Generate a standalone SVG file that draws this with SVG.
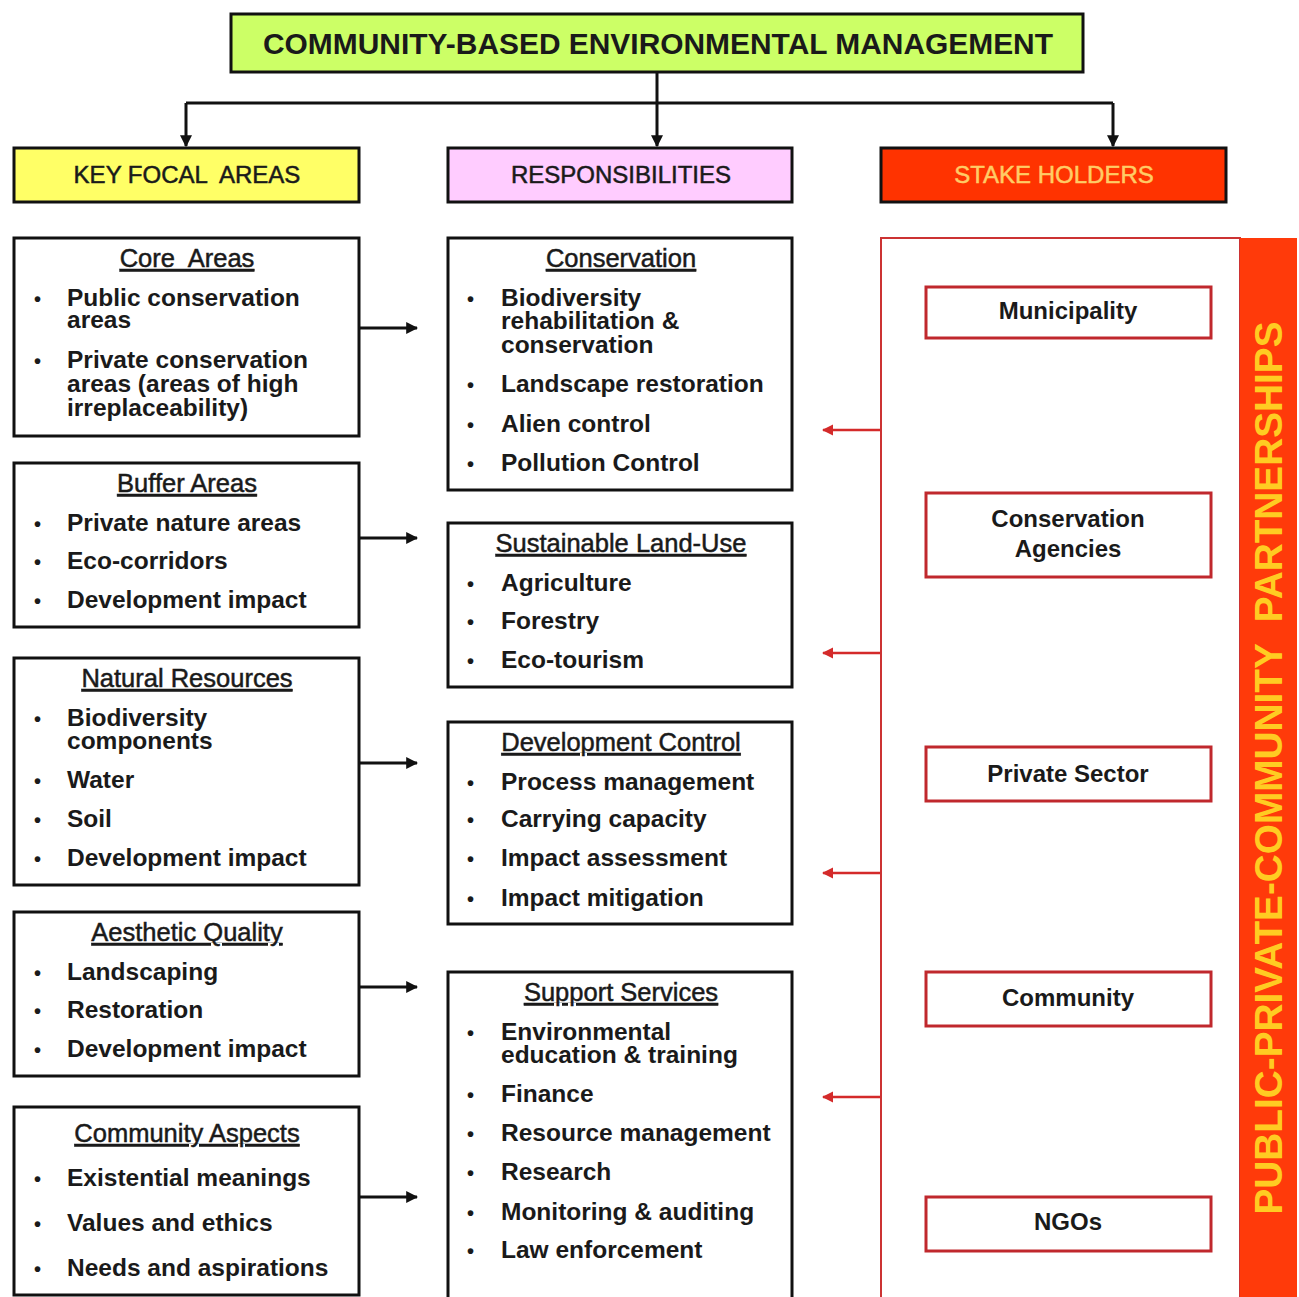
<svg xmlns="http://www.w3.org/2000/svg" width="1299" height="1297" viewBox="0 0 1299 1297">
<style>
text{font-family:"Liberation Sans",Arial,sans-serif;fill:#1a1a1a}
.box{fill:#fff;stroke:#111;stroke-width:3}
.hd{font-size:25.5px;text-anchor:middle;text-decoration:underline;stroke:#1a1a1a;stroke-width:0.5}
.b{font-size:24.5px;font-weight:bold}
.bl{font-size:20px;font-weight:bold}
.sh{fill:#fff;stroke:#c0282d;stroke-width:3}
.sht{font-size:24px;font-weight:bold;text-anchor:middle}
.hdr{stroke:#111;stroke-width:3}
.cap{font-size:24px;text-anchor:middle;stroke:#1a1a1a;stroke-width:0.5}
.con{stroke:#111;stroke-width:3;fill:none}
.red{stroke:#d42a2a;stroke-width:2.5;fill:none}
</style>
<defs>
<marker id="ah" viewBox="0 0 10 10" refX="9" refY="5" markerWidth="4" markerHeight="4" orient="auto" markerUnits="strokeWidth"><path d="M0,0L10,5L0,10z" fill="#111"/></marker>
<marker id="ahr" viewBox="0 0 10 10" refX="9" refY="5" markerWidth="4.5" markerHeight="4.5" orient="auto" markerUnits="strokeWidth"><path d="M0,0L10,5L0,10z" fill="#d42a2a"/></marker>
</defs>
<rect width="1299" height="1297" fill="#fff"/>

<g id="title">
<rect x="231" y="14" width="852" height="58" fill="#ccff66" class="hdr"/>
<text x="658" y="54" style="font-size:29px;font-weight:bold;text-anchor:middle" textLength="790" lengthAdjust="spacingAndGlyphs">COMMUNITY-BASED ENVIRONMENTAL MANAGEMENT</text>
</g>

<g id="hdr-key">
<rect x="14" y="148" width="345" height="54" fill="#ffff66" class="hdr"/>
<text x="187" y="183" class="cap" xml:space="preserve">KEY FOCAL  AREAS</text>
</g>
<g id="hdr-resp">
<rect x="448" y="148" width="344" height="54" fill="#ffccff" class="hdr"/>
<text x="621" y="183" class="cap">RESPONSIBILITIES</text>
</g>
<g id="hdr-stake">
<rect x="881" y="148" width="345" height="54" fill="#ff3300" class="hdr"/>
<text x="1054" y="183" class="cap" style="fill:#ffcc66;stroke:#ffcc66">STAKE HOLDERS</text>
</g>

<g id="connectors">
<path class="con" d="M657,72V103"/>
<path class="con" d="M186,103H1113"/>
<path class="con" d="M186,103V146" marker-end="url(#ah)"/>
<path class="con" d="M657,103V146" marker-end="url(#ah)"/>
<path class="con" d="M1113,103V146" marker-end="url(#ah)"/>
<path class="con" d="M359,328H417" marker-end="url(#ah)"/>
<path class="con" d="M359,538H417" marker-end="url(#ah)"/>
<path class="con" d="M359,763H417" marker-end="url(#ah)"/>
<path class="con" d="M359,987H417" marker-end="url(#ah)"/>
<path class="con" d="M359,1197H417" marker-end="url(#ah)"/>
<path class="red" d="M881,430H823" marker-end="url(#ahr)"/>
<path class="red" d="M881,653H823" marker-end="url(#ahr)"/>
<path class="red" d="M881,873H823" marker-end="url(#ahr)"/>
<path class="red" d="M881,1097H823" marker-end="url(#ahr)"/>
</g>

<g id="core-areas">
<rect x="14" y="238" width="345" height="198" class="box"/>
<text x="187" y="267" class="hd" xml:space="preserve">Core  Areas</text>
<text x="34" y="306" class="bl">•</text>
<text class="b"><tspan x="67" y="306">Public conservation</tspan><tspan x="67" y="328">areas</tspan></text>
<text x="34" y="368" class="bl">•</text>
<text class="b"><tspan x="67" y="368">Private conservation</tspan><tspan x="67" y="392">areas (areas of high</tspan><tspan x="67" y="416">irreplaceability)</tspan></text>
</g>

<g id="buffer-areas">
<rect x="14" y="463" width="345" height="164" class="box"/>
<text x="187" y="492" class="hd">Buffer Areas</text>
<text x="34" y="531" class="bl">•</text>
<text x="67" y="531" class="b">Private nature areas</text>
<text x="34" y="569" class="bl">•</text>
<text x="67" y="569" class="b">Eco-corridors</text>
<text x="34" y="608" class="bl">•</text>
<text x="67" y="608" class="b">Development impact</text>
</g>

<g id="natural-resources">
<rect x="14" y="658" width="345" height="227" class="box"/>
<text x="187" y="687" class="hd">Natural Resources</text>
<text x="34" y="726" class="bl">•</text>
<text class="b"><tspan x="67" y="726">Biodiversity</tspan><tspan x="67" y="749">components</tspan></text>
<text x="34" y="788" class="bl">•</text>
<text x="67" y="788" class="b">Water</text>
<text x="34" y="827" class="bl">•</text>
<text x="67" y="827" class="b">Soil</text>
<text x="34" y="866" class="bl">•</text>
<text x="67" y="866" class="b">Development impact</text>
</g>

<g id="aesthetic-quality">
<rect x="14" y="912" width="345" height="164" class="box"/>
<text x="187" y="941" class="hd">Aesthetic Quality</text>
<text x="34" y="980" class="bl">•</text>
<text x="67" y="980" class="b">Landscaping</text>
<text x="34" y="1018" class="bl">•</text>
<text x="67" y="1018" class="b">Restoration</text>
<text x="34" y="1057" class="bl">•</text>
<text x="67" y="1057" class="b">Development impact</text>
</g>

<g id="community-aspects">
<rect x="14" y="1107" width="345" height="188" class="box"/>
<text x="187" y="1142" class="hd">Community Aspects</text>
<text x="34" y="1186" class="bl">•</text>
<text x="67" y="1186" class="b">Existential meanings</text>
<text x="34" y="1231" class="bl">•</text>
<text x="67" y="1231" class="b">Values and ethics</text>
<text x="34" y="1276" class="bl">•</text>
<text x="67" y="1276" class="b">Needs and aspirations</text>
</g>

<g id="conservation">
<rect x="448" y="238" width="344" height="252" class="box"/>
<text x="621" y="267" class="hd">Conservation</text>
<text x="467" y="306" class="bl">•</text>
<text class="b"><tspan x="501" y="306">Biodiversity</tspan><tspan x="501" y="329">rehabilitation &amp;</tspan><tspan x="501" y="353">conservation</tspan></text>
<text x="467" y="392" class="bl">•</text>
<text x="501" y="392" class="b">Landscape restoration</text>
<text x="467" y="432" class="bl">•</text>
<text x="501" y="432" class="b">Alien control</text>
<text x="467" y="471" class="bl">•</text>
<text x="501" y="471" class="b">Pollution Control</text>
</g>

<g id="sustainable-land-use">
<rect x="448" y="523" width="344" height="164" class="box"/>
<text x="621" y="552" class="hd">Sustainable Land-Use</text>
<text x="467" y="591" class="bl">•</text>
<text x="501" y="591" class="b">Agriculture</text>
<text x="467" y="629" class="bl">•</text>
<text x="501" y="629" class="b">Forestry</text>
<text x="467" y="668" class="bl">•</text>
<text x="501" y="668" class="b">Eco-tourism</text>
</g>

<g id="development-control">
<rect x="448" y="722" width="344" height="202" class="box"/>
<text x="621" y="751" class="hd">Development Control</text>
<text x="467" y="790" class="bl">•</text>
<text x="501" y="790" class="b">Process management</text>
<text x="467" y="827" class="bl">•</text>
<text x="501" y="827" class="b">Carrying capacity</text>
<text x="467" y="866" class="bl">•</text>
<text x="501" y="866" class="b">Impact assessment</text>
<text x="467" y="906" class="bl">•</text>
<text x="501" y="906" class="b">Impact mitigation</text>
</g>

<g id="support-services">
<rect x="448" y="972" width="344" height="330" class="box"/>
<text x="621" y="1001" class="hd">Support Services</text>
<text x="467" y="1040" class="bl">•</text>
<text class="b"><tspan x="501" y="1040">Environmental</tspan><tspan x="501" y="1063">education &amp; training</tspan></text>
<text x="467" y="1102" class="bl">•</text>
<text x="501" y="1102" class="b">Finance</text>
<text x="467" y="1141" class="bl">•</text>
<text x="501" y="1141" class="b">Resource management</text>
<text x="467" y="1180" class="bl">•</text>
<text x="501" y="1180" class="b">Research</text>
<text x="467" y="1220" class="bl">•</text>
<text x="501" y="1220" class="b">Monitoring &amp; auditing</text>
<text x="467" y="1258" class="bl">•</text>
<text x="501" y="1258" class="b">Law enforcement</text>
</g>

<g id="stakeholder-panel">
<rect x="881" y="238" width="359" height="1070" fill="#fff" stroke="#cc3333" stroke-width="2"/>
<rect x="1240" y="238" width="57" height="1070" fill="#ff3a0a"/>
<text transform="translate(1268,768) rotate(-90)" x="0" y="14" xml:space="preserve" style="font-size:38px;font-weight:bold;text-anchor:middle;fill:#ffcc22" textLength="893" lengthAdjust="spacingAndGlyphs">PUBLIC-PRIVATE-COMMUNITY  PARTNERSHIPS</text>
</g>

<g id="municipality">
<rect x="926" y="287" width="285" height="51" class="sh"/>
<text x="1068" y="319" class="sht">Municipality</text>
</g>
<g id="conservation-agencies">
<rect x="926" y="493" width="285" height="84" class="sh"/>
<text class="sht"><tspan x="1068" y="527">Conservation</tspan><tspan x="1068" y="557">Agencies</tspan></text>
</g>
<g id="private-sector">
<rect x="926" y="747" width="285" height="54" class="sh"/>
<text x="1068" y="782" class="sht">Private Sector</text>
</g>
<g id="community">
<rect x="926" y="972" width="285" height="54" class="sh"/>
<text x="1068" y="1006" class="sht">Community</text>
</g>
<g id="ngos">
<rect x="926" y="1197" width="285" height="54" class="sh"/>
<text x="1068" y="1230" class="sht">NGOs</text>
</g>
</svg>
